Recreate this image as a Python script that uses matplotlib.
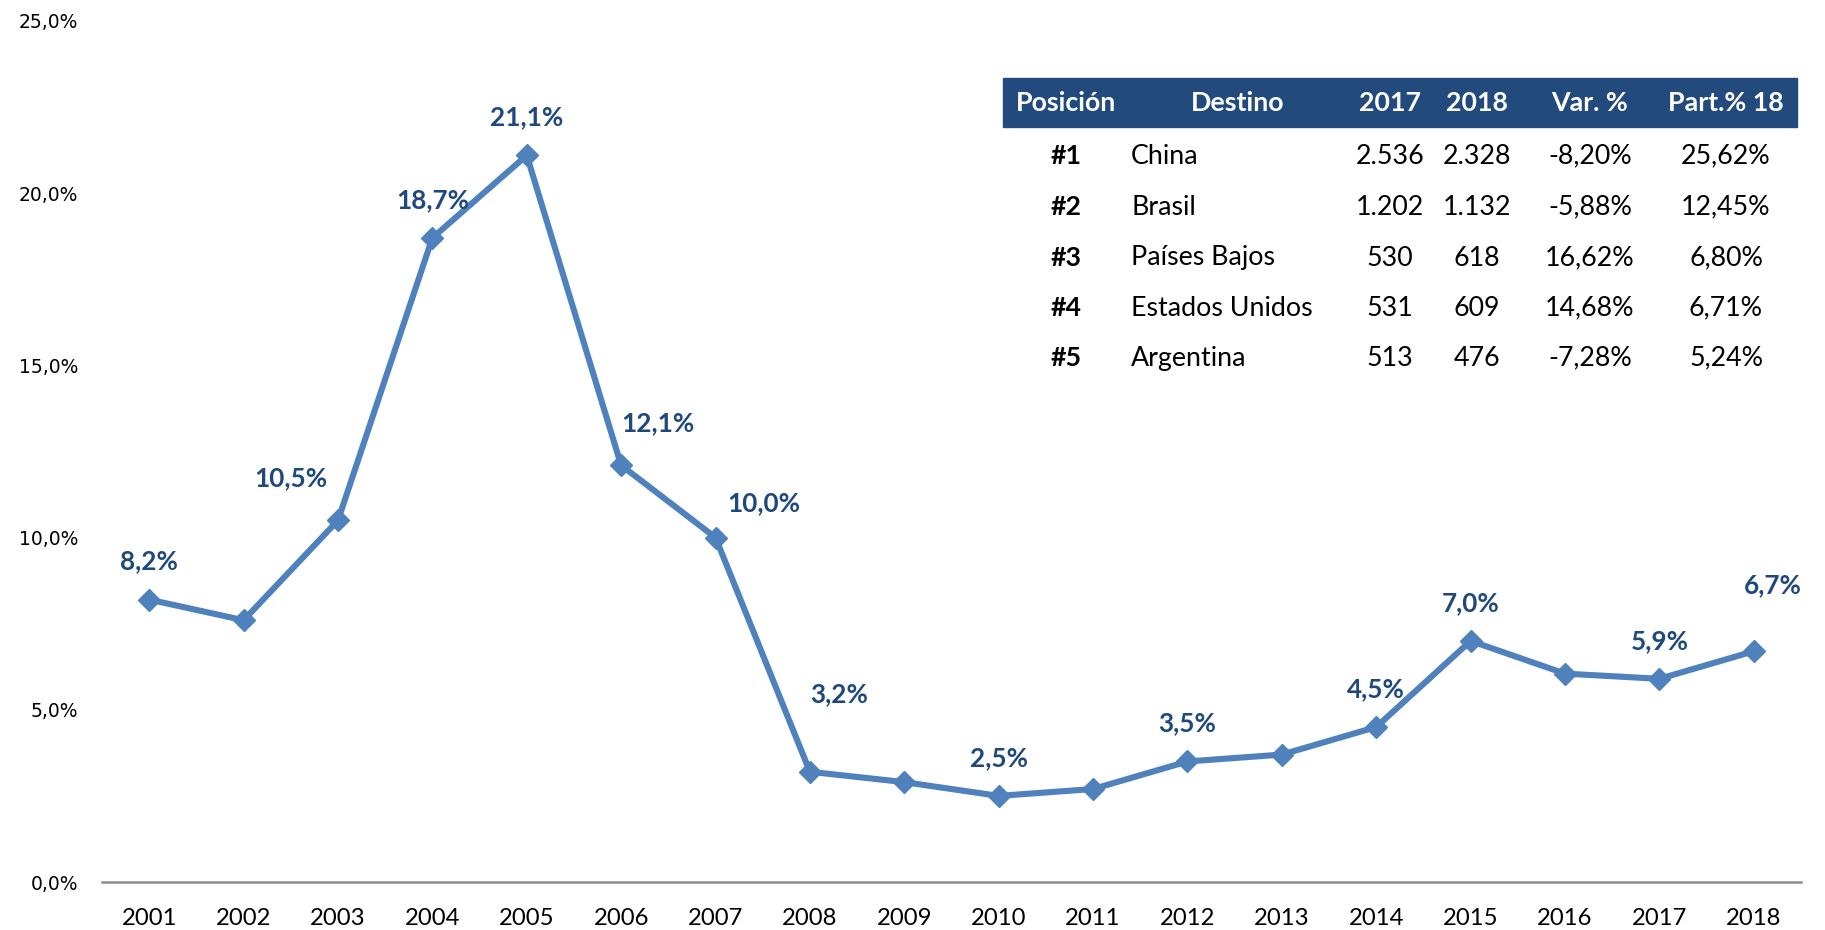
import matplotlib
matplotlib.use("Agg")
import matplotlib.pyplot as plt
from matplotlib.ticker import FuncFormatter

years = [2001, 2002, 2003, 2004, 2005, 2006, 2007, 2008, 2009,
         2010, 2011, 2012, 2013, 2014, 2015, 2016, 2017, 2018]
values = [8.2, 7.6, 10.5, 18.7, 21.1, 12.1, 10.0, 3.2, 2.9,
          2.5, 2.7, 3.5, 3.7, 4.5, 7.0, 6.05, 5.9, 6.7]
# which points get a label and its offset (pixels)
label_offsets = {2001: (0, 38), 2003: (-47, 42), 2004: (0, 38), 2005: (0, 38),
                 2006: (37, 42), 2007: (48, 34), 2008: (29, 78), 2010: (0, 38),
                 2012: (0, 38), 2014: (0, 38), 2015: (0, 38), 2017: (0, 38),
                 2018: (19, 66)}
yticks = [0, 5, 10, 15, 20, 25]

tbl_header = ["Posición", "Destino", "2017", "2018", "Var. %", "Part.% 18"]
tbl_pos = ["#1", "#2", "#3", "#4", "#5"]
tbl_dest = ["China", "Brasil", "Países Bajos", "Estados Unidos", "Argentina"]
tbl_2017 = ["2.536", "1.202", "530", "531", "513"]
tbl_2018 = ["2.328", "1.132", "618", "609", "476"]
tbl_var = ["-8,20%", "-5,88%", "16,62%", "14,68%", "-7,28%"]
tbl_part = ["25,62%", "12,45%", "6,80%", "6,71%", "5,24%"]

LINE = "#4F81BD"
DARK = "#1F497D"
FONT = ["Lato", "DejaVu Sans"]

W, H = 1825, 930
fig = plt.figure(figsize=(W / 100, H / 100), dpi=100)
ax = fig.add_axes([102 / W, 1 - 882 / H, (1801 - 102) / W, (882 - 21) / H])

x = list(range(len(years)))
ax.plot(x, values, color=LINE, lw=4.4, marker="D", ms=11, mfc=LINE, mec=LINE, zorder=3)
ax.set_xlim(-0.5, len(years) - 0.5)
ax.set_ylim(0, 25)
ax.set_yticks(yticks)
ax.yaxis.set_major_formatter(FuncFormatter(lambda v, p: f"{v:.1f}".replace(".", ",") + "%"))
ax.set_xticks(x)
ax.set_xticklabels([str(y) for y in years], fontfamily=FONT, fontsize=17.2)
for lab in ax.get_yticklabels():
    lab.set_fontfamily("DejaVu Sans")
    lab.set_fontsize(13.5)
ax.tick_params(axis="y", length=0, pad=17, colors="#000000")
ax.tick_params(axis="x", length=0, pad=19, colors="#000000")
for s in ["top", "right", "left"]:
    ax.spines[s].set_visible(False)
ax.spines["bottom"].set_color("#8C8C8C")
ax.spines["bottom"].set_linewidth(1.8)

for i, (yr, v) in enumerate(zip(years, values)):
    if yr in label_offsets:
        dx, dy = label_offsets[yr]
        ax.annotate(f"{v:.1f}".replace(".", ",") + "%", (i, v), xytext=(dx, dy),
                    textcoords="offset pixels", ha="center", va="center",
                    fontfamily=FONT, fontweight="bold", fontsize=18.8, color=DARK)

# table
def fx(px):
    return px / W

def fy(py):
    return 1 - py / H

fig.patches.append(plt.Rectangle((fx(1003), fy(127)), fx(1797) - fx(1003), fy(78) - fy(127),
                                 transform=fig.transFigure, color="#234A7C", zorder=0))
hdr_x = [1066, 1238, 1390, 1477, 1590, 1726]
for hx, t in zip(hdr_x, tbl_header):
    fig.text(fx(hx), fy(103), t, ha="center", va="center", color="white",
             fontfamily=FONT, fontweight="bold", fontsize=19.3)
row_y = [156, 207, 258, 308, 358]
for r, ry in enumerate(row_y):
    fig.text(fx(1066), fy(ry), tbl_pos[r], ha="center", va="center",
             fontfamily=FONT, fontweight="bold", fontsize=19.3)
    fig.text(fx(1131), fy(ry), tbl_dest[r], ha="left", va="center",
             fontfamily=FONT, fontsize=19.3)
    for cx, col in zip([1390, 1477, 1590, 1726], [tbl_2017, tbl_2018, tbl_var, tbl_part]):
        fig.text(fx(cx), fy(ry), col[r], ha="center", va="center",
                 fontfamily=FONT, fontsize=19.3)

fig.savefig("out.png", dpi=100)
